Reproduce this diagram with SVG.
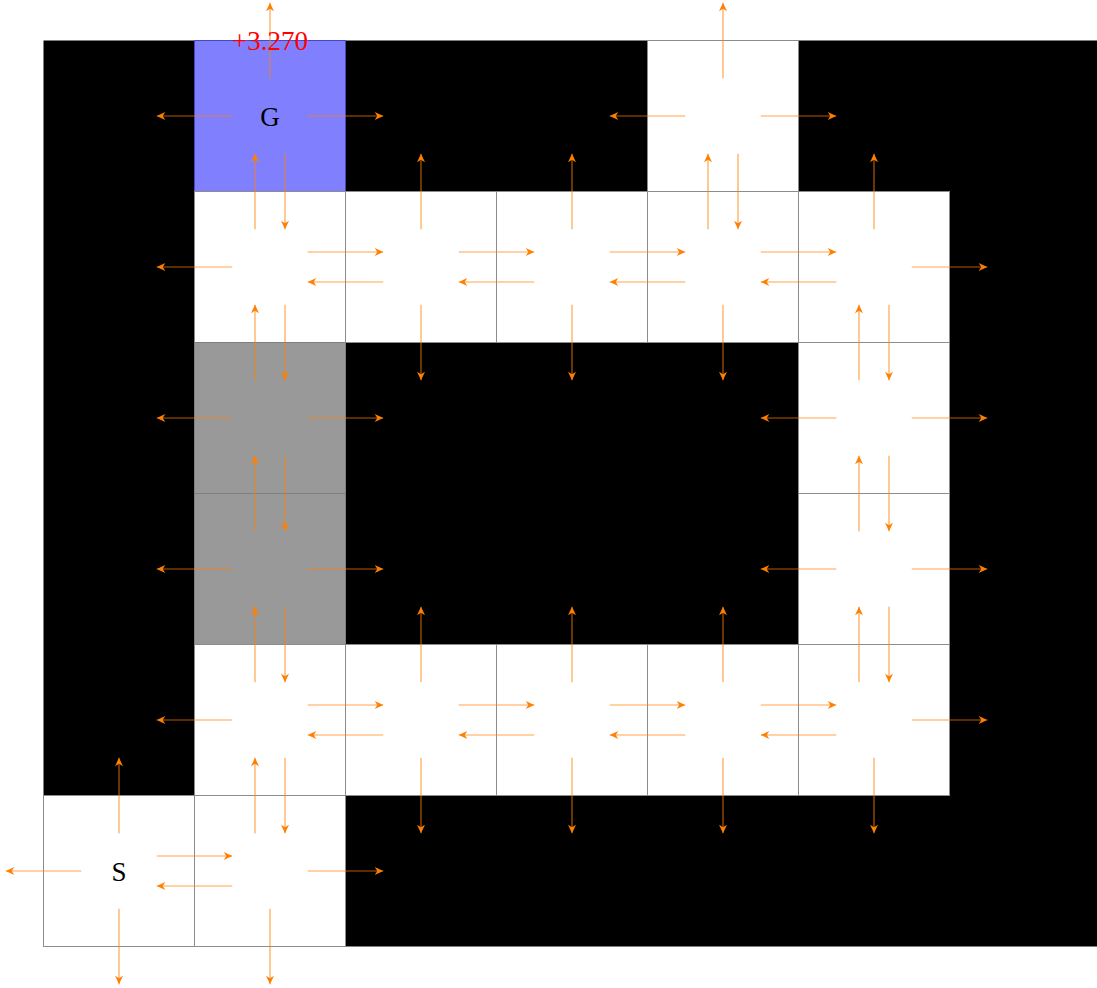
<svg xmlns="http://www.w3.org/2000/svg" width="1097" height="988" viewBox="0 0 1097 988">
<style>
.blk{fill:#000000;}
.wht{fill:#ffffff;stroke:#8c8c8c;stroke-width:1;}
.gry{fill:#999999;stroke:#808080;stroke-width:1;}
.goal{fill:#8080ff;stroke:#4848c0;stroke-width:1;}
.lbl{font-family:"Liberation Serif","Times New Roman",serif;font-size:27px;text-anchor:middle;fill:#000000;}
.val{font-family:"Liberation Serif","Times New Roman",serif;font-size:27px;text-anchor:middle;fill:#ff0000;}
#connectors path{fill:none;stroke:#ff7f00;stroke-opacity:0.7;stroke-width:1.2;marker-end:url(#ah);}
</style>
<defs>
<marker id="ah" markerUnits="userSpaceOnUse" markerWidth="12" markerHeight="12" viewBox="-10 -6 12 12" refX="0" refY="0" orient="auto" overflow="visible">
<path d="M0,0 L-8.5,-4 L-6,0 L-8.5,4 Z" fill="#ff7f00"/>
</marker>
</defs>
<rect x="0" y="0" width="1097" height="988" fill="#ffffff"/>
<g id="walls">
<rect class="blk" x="43.5" y="40.5" width="1060" height="906"/>
</g>
<g id="cell-0-1"><rect class="goal" x="194.5" y="40.5" width="151" height="151"/></g>
<g id="cell-0-4"><rect class="wht" x="647.5" y="40.5" width="151" height="151"/></g>
<g id="cell-1-1"><rect class="wht" x="194.5" y="191.5" width="151" height="151"/></g>
<g id="cell-1-2"><rect class="wht" x="345.5" y="191.5" width="151" height="151"/></g>
<g id="cell-1-3"><rect class="wht" x="496.5" y="191.5" width="151" height="151"/></g>
<g id="cell-1-4"><rect class="wht" x="647.5" y="191.5" width="151" height="151"/></g>
<g id="cell-1-5"><rect class="wht" x="798.5" y="191.5" width="151" height="151"/></g>
<g id="cell-2-1"><rect class="gry" x="194.5" y="342.5" width="151" height="151"/></g>
<g id="cell-2-5"><rect class="wht" x="798.5" y="342.5" width="151" height="151"/></g>
<g id="cell-3-1"><rect class="gry" x="194.5" y="493.5" width="151" height="151"/></g>
<g id="cell-3-5"><rect class="wht" x="798.5" y="493.5" width="151" height="151"/></g>
<g id="cell-4-1"><rect class="wht" x="194.5" y="644.5" width="151" height="151"/></g>
<g id="cell-4-2"><rect class="wht" x="345.5" y="644.5" width="151" height="151"/></g>
<g id="cell-4-3"><rect class="wht" x="496.5" y="644.5" width="151" height="151"/></g>
<g id="cell-4-4"><rect class="wht" x="647.5" y="644.5" width="151" height="151"/></g>
<g id="cell-4-5"><rect class="wht" x="798.5" y="644.5" width="151" height="151"/></g>
<g id="cell-5-0"><rect class="wht" x="43.5" y="795.5" width="151" height="151"/></g>
<g id="cell-5-1"><rect class="wht" x="194.5" y="795.5" width="151" height="151"/></g>
<g id="connectors">
<path d="M270,78.25 L270,2.75"/>
<path d="M232.25,116 L156.75,116"/>
<path d="M307.75,116 L383.25,116"/>
<path d="M285,153.75 L285,229.25"/>
<path d="M723,78.25 L723,2.75"/>
<path d="M685.25,116 L609.75,116"/>
<path d="M760.75,116 L836.25,116"/>
<path d="M738,153.75 L738,229.25"/>
<path d="M255,229.25 L255,153.75"/>
<path d="M232.25,267 L156.75,267"/>
<path d="M307.75,252 L383.25,252"/>
<path d="M285,304.75 L285,380.25"/>
<path d="M421,229.25 L421,153.75"/>
<path d="M383.25,282 L307.75,282"/>
<path d="M458.75,252 L534.25,252"/>
<path d="M421,304.75 L421,380.25"/>
<path d="M572,229.25 L572,153.75"/>
<path d="M534.25,282 L458.75,282"/>
<path d="M609.75,252 L685.25,252"/>
<path d="M572,304.75 L572,380.25"/>
<path d="M708,229.25 L708,153.75"/>
<path d="M685.25,282 L609.75,282"/>
<path d="M760.75,252 L836.25,252"/>
<path d="M723,304.75 L723,380.25"/>
<path d="M874,229.25 L874,153.75"/>
<path d="M836.25,282 L760.75,282"/>
<path d="M911.75,267 L987.25,267"/>
<path d="M889,304.75 L889,380.25"/>
<path d="M255,380.25 L255,304.75"/>
<path d="M232.25,418 L156.75,418"/>
<path d="M307.75,418 L383.25,418"/>
<path d="M285,455.75 L285,531.25"/>
<path d="M859,380.25 L859,304.75"/>
<path d="M836.25,418 L760.75,418"/>
<path d="M911.75,418 L987.25,418"/>
<path d="M889,455.75 L889,531.25"/>
<path d="M255,531.25 L255,455.75"/>
<path d="M232.25,569 L156.75,569"/>
<path d="M307.75,569 L383.25,569"/>
<path d="M285,606.75 L285,682.25"/>
<path d="M859,531.25 L859,455.75"/>
<path d="M836.25,569 L760.75,569"/>
<path d="M911.75,569 L987.25,569"/>
<path d="M889,606.75 L889,682.25"/>
<path d="M255,682.25 L255,606.75"/>
<path d="M232.25,720 L156.75,720"/>
<path d="M307.75,705 L383.25,705"/>
<path d="M285,757.75 L285,833.25"/>
<path d="M421,682.25 L421,606.75"/>
<path d="M383.25,735 L307.75,735"/>
<path d="M458.75,705 L534.25,705"/>
<path d="M421,757.75 L421,833.25"/>
<path d="M572,682.25 L572,606.75"/>
<path d="M534.25,735 L458.75,735"/>
<path d="M609.75,705 L685.25,705"/>
<path d="M572,757.75 L572,833.25"/>
<path d="M723,682.25 L723,606.75"/>
<path d="M685.25,735 L609.75,735"/>
<path d="M760.75,705 L836.25,705"/>
<path d="M723,757.75 L723,833.25"/>
<path d="M859,682.25 L859,606.75"/>
<path d="M836.25,735 L760.75,735"/>
<path d="M911.75,720 L987.25,720"/>
<path d="M874,757.75 L874,833.25"/>
<path d="M119,833.25 L119,757.75"/>
<path d="M81.25,871 L5.75,871"/>
<path d="M156.75,856 L232.25,856"/>
<path d="M119,908.75 L119,984.25"/>
<path d="M255,833.25 L255,757.75"/>
<path d="M232.25,886 L156.75,886"/>
<path d="M307.75,871 L383.25,871"/>
<path d="M270,908.75 L270,984.25"/>
</g>
<g id="labels">
<text class="lbl" x="270" y="126">G</text>
<text class="lbl" x="119" y="881">S</text>
<text class="val" x="270" y="50">+3.270</text>
</g>
</svg>
